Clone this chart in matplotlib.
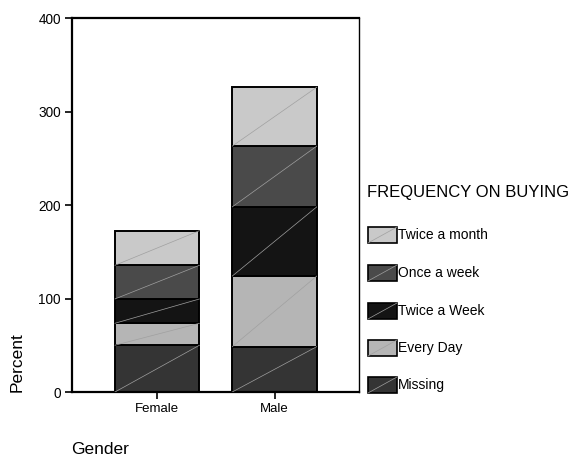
import matplotlib
matplotlib.use("Agg")
import matplotlib.pyplot as plt
from matplotlib.patches import Rectangle
import numpy as np

plt.rcParams['font.family'] = ['Liberation Sans', 'DejaVu Sans']

genders = ["Female", "Male"]
categories = ["Missing", "Every Day", "Twice a Week", "Once a week", "Twice a month"]
values = {
    "Missing":       [50, 48.5],
    "Every Day":     [23.5, 75.5],
    "Twice a Week":  [26, 74],
    "Once a week":   [36, 65],
    "Twice a month": [37, 63],
}
colors = {
    "Missing": "#343434",
    "Every Day": "#b5b5b5",
    "Twice a Week": "#141414",
    "Once a week": "#4a4a4a",
    "Twice a month": "#c9c9c9",
}
yticks = [0, 100, 200, 300, 400]

W, H = 577, 457
fig = plt.figure(figsize=(W / 100, H / 100), dpi=100)
ax = fig.add_axes([72 / W, 1 - 392 / H, 287 / W, 374 / H])

x = np.arange(len(genders))
width = 0.72
bottom = np.zeros(len(genders))
for cat in categories:
    v = np.array(values[cat])
    ax.bar(x, v, width, bottom=bottom, color=colors[cat], edgecolor="black",
           linewidth=1.4, zorder=2)
    for xi, b, h in zip(x, bottom, v):
        ax.plot([xi - width / 2, xi + width / 2], [b, b + h], color="#a0a0a0",
                linewidth=0.5, zorder=3)
    bottom += v

ax.set_xlim(-0.726, 1.72)
ax.set_ylim(0, 400)
ax.set_yticks(yticks)
ax.set_yticklabels([str(t) for t in yticks], fontsize=9.8)
ax.set_xticks(x)
ax.set_xticklabels(genders, fontsize=9.5)
ax.tick_params(axis="both", direction="out", length=5, width=1.2, pad=3)
for s in ["left", "top", "bottom"]:
    ax.spines[s].set_linewidth(1.6)
ax.spines["right"].set_linewidth(1.0)

fig.text(17 / W, 1 - 392 / H, "Percent", rotation=90, ha="center", va="bottom",
         fontsize=12.5)
fig.text(71 / W, 1 - 454 / H, "Gender", ha="left", va="baseline", fontsize=12.5)

# Legend (manual)
fig.text(367 / W, 1 - 192 / H, "FREQUENCY ON BUYING", ha="left", va="center",
         fontsize=12)
leg_y = [235, 273, 311, 348, 385]
for cat, yy in zip(categories[::-1], leg_y):
    x0, y0 = 368 / W, 1 - (yy + 8) / H
    w, h = 29 / W, 16 / H
    fig.add_artist(Rectangle((x0, y0), w, h, transform=fig.transFigure,
                             facecolor=colors[cat], edgecolor="black", linewidth=1.2))
    fig.add_artist(plt.Line2D([x0, x0 + w], [y0, y0 + h], transform=fig.transFigure,
                              color="#a0a0a0", linewidth=0.5))
    fig.text(398 / W, 1 - yy / H, cat, ha="left", va="center", fontsize=10)

fig.savefig("out.png", dpi=100)
